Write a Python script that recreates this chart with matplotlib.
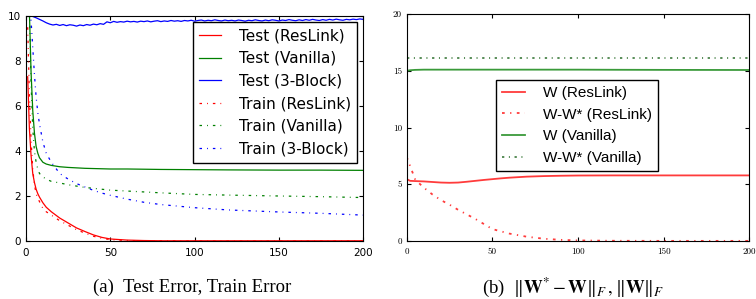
import numpy as np
import matplotlib
matplotlib.use("Agg")
import matplotlib.pyplot as plt

plt.rcParams['mathtext.fontset'] = 'stix'

# ---- panel (a): test / train error ----
epochs = [1, 2, 3, 4, 5, 6, 7, 8, 10, 12, 15, 20, 25, 30, 35, 40, 45, 50,
          60, 70, 80, 100, 120, 150, 175, 200]
test_reslink = [7.3, 5.0, 3.8, 3.0, 2.6, 2.3, 2.1, 1.95, 1.7, 1.5, 1.3, 1.02,
                0.8, 0.58, 0.42, 0.27, 0.16, 0.09, 0.04, 0.02, 0.01, 0.01,
                0.01, 0.01, 0.01, 0.01]
train_reslink = [9.5, 6.5, 4.5, 3.2, 2.5, 2.1, 1.9, 1.75, 1.45, 1.3, 1.15,
                 0.9, 0.7, 0.5, 0.35, 0.21, 0.12, 0.06, 0.02, 0.01, 0.01,
                 0.0, 0.0, 0.0, 0.0, 0.0]
test_vanilla = [10.5, 10.2, 7.5, 5.8, 4.8, 4.2, 3.9, 3.7, 3.5, 3.42, 3.36,
                3.3, 3.27, 3.25, 3.23, 3.22, 3.21, 3.2, 3.2, 3.19, 3.18,
                3.17, 3.16, 3.15, 3.15, 3.14]
train_vanilla = [11.0, 10.5, 7.0, 5.0, 4.0, 3.5, 3.2, 3.0, 2.85, 2.75, 2.65,
                 2.58, 2.5, 2.44, 2.38, 2.34, 2.3, 2.26, 2.22, 2.18, 2.14,
                 2.07, 2.04, 2.0, 1.97, 1.93]
train_3block = [11.0, 10.5, 9.8, 8.6, 7.4, 6.4, 5.7, 5.2, 4.4, 3.9, 3.5, 3.0,
                2.75, 2.55, 2.4, 2.25, 2.13, 2.03, 1.86, 1.72, 1.62, 1.48,
                1.38, 1.29, 1.23, 1.15]

# test error of the 3-block net, read every 2 epochs from 0
test_3block = [10.10, 10.00, 9.98, 9.92, 9.85, 9.78,
               9.70, 9.64, 9.60, 9.63, 9.58, 9.62, 9.57, 9.61, 9.59, 9.55,
               9.60, 9.57, 9.62, 9.59, 9.64, 9.61, 9.66, 9.63,
               9.74, 9.70, 9.76, 9.72, 9.75, 9.73, 9.77, 9.74, 9.76, 9.73,
               9.77, 9.75, 9.78, 9.74, 9.77, 9.79, 9.75, 9.78, 9.76, 9.80,
               9.77, 9.79, 9.76, 9.80, 9.78, 9.81, 9.77, 9.80, 9.82, 9.78,
               9.81, 9.79, 9.83, 9.80, 9.78, 9.82, 9.79, 9.81, 9.78, 9.82,
               9.80, 9.77, 9.81, 9.79, 9.83, 9.80, 9.78, 9.82, 9.79, 9.83,
               9.81, 9.78, 9.82, 9.80, 9.84, 9.81, 9.79, 9.83, 9.80, 9.84,
               9.81, 9.85, 9.82, 9.80, 9.84, 9.81, 9.85, 9.82, 9.86, 9.83,
               9.81, 9.85, 9.83, 9.86, 9.84, 9.87, 9.85]
epochs_noisy = np.arange(len(test_3block)) * 2

# ---- panel (b): weight norms ----
steps = [0, 2, 5, 10, 15, 20, 25, 30, 35, 40, 45, 50, 55, 60, 70, 80, 90,
         100, 120, 150, 200]
w_reslink = [5.45, 5.3, 5.28, 5.25, 5.2, 5.15, 5.13, 5.15, 5.22, 5.3, 5.38,
             5.45, 5.52, 5.58, 5.67, 5.72, 5.75, 5.77, 5.78, 5.78, 5.78]
wdiff_reslink = [7.4, 6.6, 5.4, 4.7, 4.1, 3.6, 3.2, 2.75, 2.35, 1.95, 1.5,
                 1.05, 0.85, 0.65, 0.38, 0.2, 0.1, 0.05, 0.02, 0.01, 0.01]
w_vanilla = [15.0, 15.05, 15.08, 15.1, 15.1, 15.1, 15.1, 15.1, 15.1, 15.1,
             15.1, 15.1, 15.1, 15.1, 15.1, 15.1, 15.1, 15.1, 15.09, 15.08,
             15.07]
wdiff_vanilla = [16.15] * len(steps)

dash_a = (2, 4, 0.7, 4)
dash_b = (1.5, 3, 0.7, 3)

fig = plt.figure(figsize=(7.56, 2.99), dpi=100)
fig.patch.set_facecolor('white')

ax1 = fig.add_axes([0.0344, 0.194, 0.446, 0.7525])
ax1.plot(epochs, test_reslink, color='r', lw=0.9, label='Test (ResLink)')
ax1.plot(epochs, test_vanilla, color='g', lw=0.9, label='Test (Vanilla)')
ax1.plot(epochs_noisy, test_3block, color='b', lw=0.9, label='Test (3-Block)')
ax1.plot(epochs, train_reslink, color='r', lw=0.9, dashes=dash_a, label='Train (ResLink)')
ax1.plot(epochs, train_vanilla, color='g', lw=0.9, dashes=dash_a, label='Train (Vanilla)')
ax1.plot(epochs, train_3block, color='b', lw=0.9, dashes=dash_a, label='Train (3-Block)')
ax1.set_xlim(0, 200)
ax1.set_ylim(0, 10)
ax1.set_xticks([0, 50, 100, 150, 200])
ax1.set_yticks([0, 2, 4, 6, 8, 10])
ax1.tick_params(direction='in', top=True, right=True, length=3, labelsize=7.5)
ax1.tick_params(axis='x', pad=5)
leg1 = ax1.legend(loc='upper right', fontsize=11, handlelength=1.4,
                  handletextpad=1.2, labelspacing=0.5, borderpad=0.4,
                  borderaxespad=0.4, fancybox=False, framealpha=1)
leg1.get_frame().set_edgecolor('black')

ax2 = fig.add_axes([0.538, 0.194, 0.453, 0.759])
ax2.plot(steps, w_reslink, color='#ff3b3b', lw=1.3, label='W (ResLink)')
ax2.plot(steps, wdiff_reslink, color='#ff3b3b', lw=1.3, dashes=dash_b, label='W-W* (ResLink)')
ax2.plot(steps, w_vanilla, color='#3a9a3a', lw=1.3, label='W (Vanilla)')
ax2.plot(steps, wdiff_vanilla, color='#2a6e2a', lw=1.1, dashes=dash_b, label='W-W* (Vanilla)')
ax2.set_xlim(0, 200)
ax2.set_ylim(0, 20)
ax2.set_xticks([0, 50, 100, 150, 200])
ax2.set_yticks([0, 5, 10, 15, 20])
ax2.tick_params(direction='in', top=True, right=True, length=3, labelsize=6.5)
ax2.tick_params(axis='x', pad=5)
for lbl in ax2.get_xticklabels() + ax2.get_yticklabels():
    lbl.set_fontfamily('cmr10')
leg2 = ax2.legend(loc='upper left', bbox_to_anchor=(0.26, 0.709),
                  borderaxespad=0, prop={'family': 'Liberation Sans', 'size': 11},
                  handlelength=1.5, handletextpad=1.2, labelspacing=0.5,
                  borderpad=0.4, fancybox=False, framealpha=1)
leg2.get_frame().set_edgecolor('black')

fig.text(0.254, 0.04, '(a)  Test Error, Train Error', ha='center', va='center',
         family='Liberation Serif', fontsize=13.5)
fig.text(0.758, 0.04, r'(b)  $\|\mathbf{W}^{*}-\mathbf{W}\|_{F}\,,\|\mathbf{W}\|_{F}$',
         ha='center', va='center', family='Liberation Serif', fontsize=13.5)

fig.savefig('out.png', dpi=100, facecolor='white')
